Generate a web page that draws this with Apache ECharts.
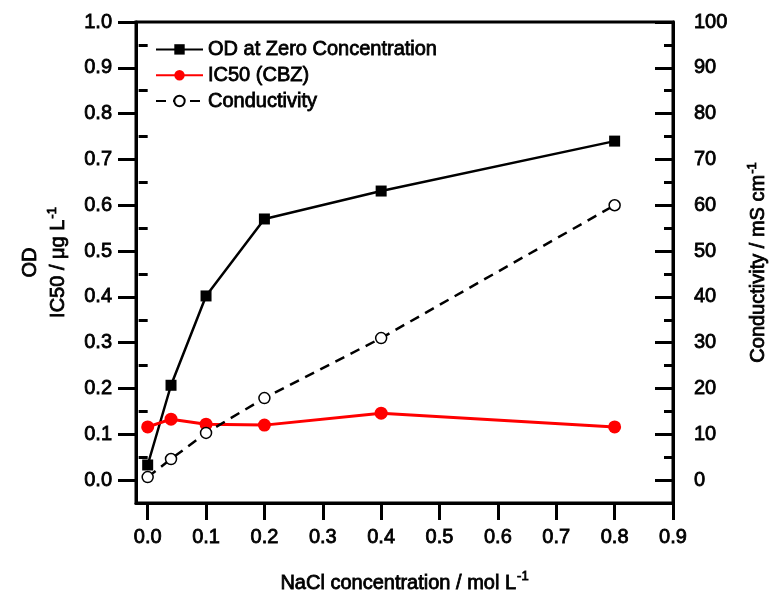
<!DOCTYPE html>
<html>
<head>
<meta charset="utf-8">
<script src="https://cdn.jsdelivr.net/npm/echarts@6/dist/echarts.min.js"></script>
<style>
  html, body { margin: 0; padding: 0; background: #fff; }
  #chart { width: 776px; height: 594px; }
</style>
</head>
<body>
<div id="chart"></div>
<script>
const naclConc = [0, 0.04, 0.1, 0.2, 0.4, 0.8];
const odValues = [0.033, 0.207, 0.402, 0.570, 0.631, 0.740];
const ic50Values = [0.116, 0.133, 0.122, 0.120, 0.146, 0.116];
const condValues = [0.65, 4.6, 10.3, 17.9, 31.0, 60.0];

const xTickValues = [0, 0.1, 0.2, 0.3, 0.4, 0.5, 0.6, 0.7, 0.8, 0.9];
const leftTickValues = [0, 0.1, 0.2, 0.3, 0.4, 0.5, 0.6, 0.7, 0.8, 0.9, 1.0];
const leftMinorValues = [-0.05, 0.05, 0.15, 0.25, 0.35, 0.45, 0.55, 0.65, 0.75, 0.85, 0.95];
const rightTickValues = [0, 10, 20, 30, 40, 50, 60, 70, 80, 90, 100];
const rightMinorValues = [-5, 5, 15, 25, 35, 45, 55, 65, 75, 85, 95];

const FONT = 'Liberation Sans, Arial, sans-serif';
const txt = { fontFamily: FONT, fontSize: 20, color: '#000', textBorderColor: '#000', textBorderWidth: 0.8 };

const pairs = (xs, ys) => xs.map((x, i) => [x, ys[i]]);

const chart = echarts.init(document.getElementById('chart'), null, { renderer: 'canvas' });

const option = {
  backgroundColor: '#fff',
  animation: false,
  grid: { left: 136, right: 103, top: 22, bottom: 91, outerBoundsMode: 'none', containLabel: false, show: true, borderColor: '#000', borderWidth: 3, backgroundColor: 'transparent' },
  legend: {
    orient: 'vertical',
    left: 150,
    top: 34,
    itemWidth: 47,
    itemHeight: 13,
    itemGap: 5,
    textStyle: Object.assign({}, txt),
    data: ['OD at Zero Concentration', 'IC50 (CBZ)', 'Conductivity']
  },
  xAxis: [{
    type: 'value',
    min: -0.02,
    max: 0.9,
    splitLine: { show: false },
    axisLine: { show: true, onZero: false, lineStyle: { color: '#000', width: 3 } },
    axisTick: { show: true, customValues: xTickValues, length: 17, lineStyle: { color: '#000', width: 3 } },
    axisLabel: Object.assign({ customValues: xTickValues, margin: 24, formatter: v => v.toFixed(1) }, txt),
    name: '{t|NaCl concentration / mol L}{s|-1}',
    nameLocation: 'middle',
    nameGap: 67,
    nameTextStyle: {
      rich: {
        t: Object.assign({}, txt, { verticalAlign: 'bottom' }),
        s: Object.assign({}, txt, { fontSize: 13, verticalAlign: 'top', padding: [0, 0, 10, 1] })
      }
    }
  }],
  yAxis: [{
    type: 'value',
    position: 'left',
    min: -0.05,
    max: 1.0,
    splitLine: { show: false },
    axisLine: { show: true, onZero: false, lineStyle: { color: '#000', width: 3 } },
    axisTick: { show: true, customValues: leftTickValues, length: 18, lineStyle: { color: '#000', width: 3 } },
    axisLabel: Object.assign({ customValues: leftTickValues, margin: 24, formatter: v => v.toFixed(1) }, txt),
    name: '{t|OD}\n{t|IC50 / μg L}{s|-1}',
    nameLocation: 'middle',
    nameRotate: 90,
    nameGap: 63,
    nameTextStyle: {
      align: 'center',
      lineHeight: 28,
      rich: {
        t: Object.assign({}, txt, { lineHeight: 28 }),
        s: Object.assign({}, txt, { fontSize: 13, lineHeight: 28, padding: [0, 0, 12, 1] })
      }
    }
  }, {
    type: 'value',
    position: 'right',
    min: -5,
    max: 100,
    splitLine: { show: false },
    axisLine: { show: true, onZero: false, lineStyle: { color: '#000', width: 3 } },
    axisTick: { show: true, inside: true, customValues: rightTickValues, length: 18, lineStyle: { color: '#000', width: 3 } },
    axisLabel: Object.assign({ customValues: rightTickValues, margin: 21 }, txt),
    name: '{t|Conductivity / mS cm}{s|-1}',
    nameLocation: 'middle',
    nameRotate: 90,
    nameGap: 73,
    nameTextStyle: {
      rich: {
        t: Object.assign({}, txt),
        s: Object.assign({}, txt, { fontSize: 13, padding: [0, 0, 12, 1] })
      }
    }
  }, {
    type: 'value',
    position: 'left',
    min: -0.05,
    max: 1.0,
    splitLine: { show: false },
    axisLine: { show: false },
    axisTick: { show: true, customValues: leftMinorValues, length: 9, lineStyle: { color: '#000', width: 3 } },
    axisLabel: { show: false }
  }, {
    type: 'value',
    position: 'right',
    min: -5,
    max: 100,
    splitLine: { show: false },
    axisLine: { show: false },
    axisTick: { show: true, inside: true, customValues: rightMinorValues, length: 9, lineStyle: { color: '#000', width: 3 } },
    axisLabel: { show: false }
  }],
  series: [{
    name: 'OD at Zero Concentration',
    type: 'line',
    yAxisIndex: 0,
    data: pairs(naclConc, odValues),
    symbol: 'rect',
    symbolSize: 11,
    itemStyle: { color: '#000' },
    lineStyle: { color: '#000', width: 2.5 },
    z: 2
  }, {
    name: 'IC50 (CBZ)',
    type: 'line',
    yAxisIndex: 0,
    data: pairs(naclConc, ic50Values),
    symbol: 'circle',
    symbolSize: 13,
    itemStyle: { color: '#ff0000' },
    lineStyle: { color: '#ff0000', width: 3 },
    z: 3
  }, {
    name: 'Conductivity',
    type: 'line',
    yAxisIndex: 1,
    data: pairs(naclConc, condValues),
    symbol: 'circle',
    symbolSize: 11,
    itemStyle: { color: '#fff', borderColor: '#000', borderWidth: 1.5 },
    lineStyle: { color: '#000', width: 2.5, type: [10, 7] },
    z: 4
  }]
};

chart.setOption(option);
</script>
</body>
</html>
